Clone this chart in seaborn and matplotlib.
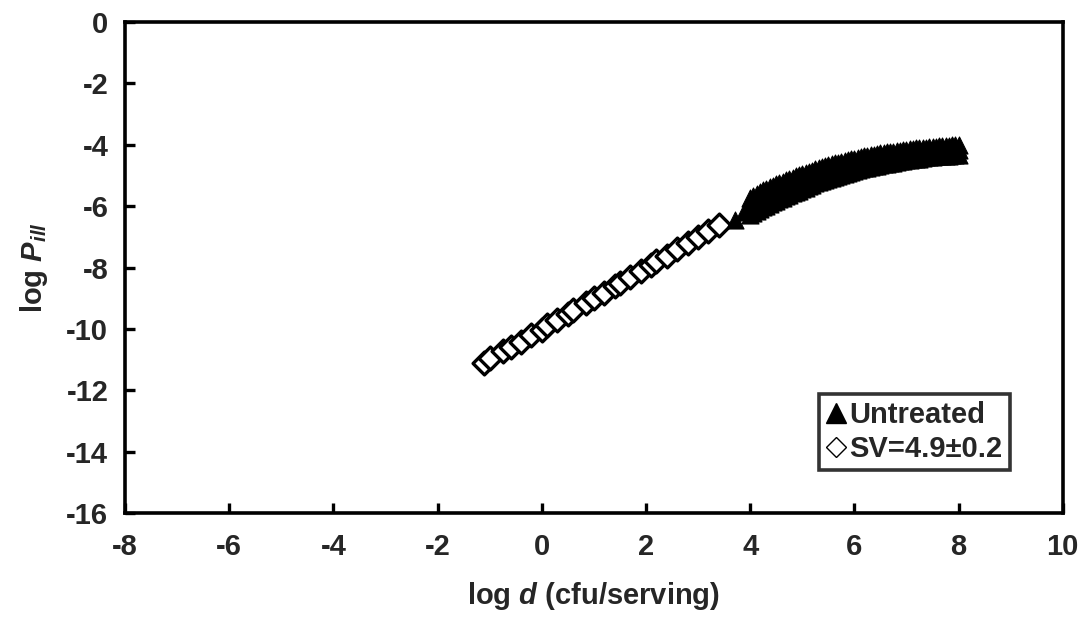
import matplotlib
matplotlib.use("Agg")
import matplotlib.pyplot as plt
import seaborn as sns
import pandas as pd
from matplotlib.lines import Line2D

# ---- data ----
sv_x = [-1.10, -1.00, -0.75, -0.60, -0.40, -0.20, 0.00, 0.10, 0.30, 0.50, 0.60,
        0.85, 1.00, 1.20, 1.40, 1.50, 1.70, 1.90, 2.10, 2.20, 2.40, 2.60, 2.80,
        3.00, 3.20, 3.40]
sv_y = [-11.10, -10.95, -10.72, -10.60, -10.42, -10.20, -10.02, -9.88, -9.70,
        -9.52, -9.38, -9.15, -8.98, -8.82, -8.60, -8.50, -8.30, -8.12, -7.90,
        -7.80, -7.62, -7.40, -7.20, -7.00, -6.82, -6.60]

ut_x = [4.0, 4.125, 4.25, 4.375, 4.5, 4.625, 4.75, 4.875, 5.0, 5.125, 5.25,
        5.375, 5.5, 5.625, 5.75, 5.875, 6.0, 6.125, 6.25, 6.375, 6.5, 6.625,
        6.75, 6.875, 7.0, 7.125, 7.25, 7.375, 7.5, 7.625, 7.75, 7.875, 8.0]
ut_mid = [-6.00, -5.88, -5.76, -5.65, -5.55, -5.46, -5.37, -5.28, -5.20, -5.11,
          -5.03, -4.95, -4.88, -4.82, -4.76, -4.70, -4.65, -4.60, -4.55, -4.51,
          -4.47, -4.43, -4.40, -4.36, -4.33, -4.30, -4.28, -4.25, -4.23, -4.21,
          -4.20, -4.18, -4.17]
ut_hi = [-5.72, -5.60, -5.48, -5.38, -5.28, -5.20, -5.11, -5.03, -4.95, -4.87,
         -4.80, -4.72, -4.66, -4.60, -4.55, -4.49, -4.45, -4.40, -4.36, -4.32,
         -4.28, -4.25, -4.22, -4.19, -4.16, -4.13, -4.11, -4.09, -4.07, -4.05,
         -4.04, -4.02, -4.01]
ut_lo = [-6.28, -6.16, -6.04, -5.92, -5.82, -5.72, -5.63, -5.53, -5.45, -5.35,
         -5.26, -5.18, -5.10, -5.04, -4.97, -4.91, -4.85, -4.80, -4.74, -4.70,
         -4.66, -4.61, -4.58, -4.53, -4.50, -4.47, -4.45, -4.41, -4.39, -4.37,
         -4.36, -4.34, -4.33]
ut_xh = [4.0625, 4.1875, 4.3125, 4.4375, 4.5625, 4.6875, 4.8125, 4.9375,
         5.0625, 5.1875, 5.3125, 5.4375, 5.5625, 5.6875, 5.8125, 5.9375,
         6.0625, 6.1875, 6.3125, 6.4375, 6.5625, 6.6875, 6.8125, 6.9375,
         7.0625, 7.1875, 7.3125, 7.4375, 7.5625, 7.6875, 7.8125, 7.9375]
ut_hi_h = [-5.66, -5.54, -5.43, -5.33, -5.24, -5.16, -5.07, -4.99, -4.91, -4.84,
           -4.76, -4.69, -4.63, -4.58, -4.52, -4.47, -4.43, -4.38, -4.34, -4.30,
           -4.27, -4.24, -4.21, -4.18, -4.15, -4.12, -4.10, -4.08, -4.06, -4.05,
           -4.03, -4.02]
ut_lo_h = [-6.22, -6.10, -5.98, -5.87, -5.77, -5.68, -5.58, -5.49, -5.40, -5.31,
           -5.22, -5.14, -5.07, -5.01, -4.94, -4.88, -4.83, -4.77, -4.72, -4.68,
           -4.64, -4.60, -4.56, -4.52, -4.49, -4.46, -4.43, -4.40, -4.38, -4.37,
           -4.35, -4.34]
ut_extra_x = [3.70, 3.88]
ut_extra_y = [-6.45, -6.20]

x_ticks = [-8, -6, -4, -2, 0, 2, 4, 6, 8, 10]
y_ticks = [0, -2, -4, -6, -8, -10, -12, -14, -16]
legend_labels = ["Untreated", "SV=4.9\u00b10.2"]

# ---- style ----
sns.set_theme(style="white")
plt.rcParams["font.family"] = ["Liberation Sans", "DejaVu Sans"]
plt.rcParams["font.weight"] = "bold"
plt.rcParams["mathtext.fontset"] = "custom"
plt.rcParams["mathtext.bfit"] = "Liberation Sans:italic:bold"
plt.rcParams["mathtext.it"] = "Liberation Sans:italic:bold"
plt.rcParams["mathtext.rm"] = "Liberation Sans:bold"

FS = 21

fig = plt.figure(figsize=(10.9, 6.22), dpi=100)
ax = fig.add_axes([0.1147, 0.175, 0.8603, 0.7896])

ut_df = pd.DataFrame({
    "x": ut_x + ut_x + ut_x + ut_xh + ut_xh + ut_extra_x,
    "y": ut_mid + ut_hi + ut_lo + ut_hi_h + ut_lo_h + ut_extra_y,
})
sv_df = pd.DataFrame({"x": sv_x, "y": sv_y})

sns.scatterplot(data=sv_df, x="x", y="y", ax=ax, marker="D", s=135,
                facecolor="white", edgecolor="black", linewidth=2.4, zorder=3)
sns.scatterplot(data=ut_df, x="x", y="y", ax=ax, marker="^", s=150,
                color="black", edgecolor="black", linewidth=0.8, zorder=4)

ax.set_xlim(-8, 10)
ax.set_ylim(-16, 0)
ax.set_xticks(x_ticks)
ax.set_yticks(y_ticks)
ax.set_xticklabels([str(t) for t in x_ticks], fontsize=FS, fontweight="bold")
ax.set_yticklabels([str(t) for t in y_ticks], fontsize=FS, fontweight="bold")
ax.tick_params(axis="both", direction="in", length=7, width=2.4, color="black",
               bottom=True, left=True, top=False, right=False)
ax.tick_params(axis="x", pad=14)
ax.tick_params(axis="y", pad=12)
for sp in ax.spines.values():
    sp.set_visible(True)
    sp.set_color("black")
    sp.set_linewidth(2.6)

ax.set_xlabel(r"log $\mathbfit{d}$ (cfu/serving)", fontsize=FS, fontweight="bold",
              labelpad=14)
ax.set_ylabel(r"log $\mathbfit{P}_{\mathbfit{ill}}$", fontsize=FS, fontweight="bold",
              labelpad=12)

handles = [
    Line2D([], [], marker="^", linestyle="none", markersize=14,
           markerfacecolor="black", markeredgecolor="black"),
    Line2D([], [], marker="D", linestyle="none", markersize=10,
           markerfacecolor="white", markeredgecolor="black", markeredgewidth=1.0),
]
leg = ax.legend(handles, legend_labels, loc="lower right",
                bbox_to_anchor=(0.9435, 0.087), frameon=True, fancybox=False,
                prop={"size": FS, "weight": "bold"}, handlelength=0.7,
                handletextpad=0.1, borderpad=0.25, labelspacing=0.2,
                borderaxespad=0)
leg.get_frame().set_edgecolor("black")
leg.get_frame().set_linewidth(2.6)

fig.savefig("out.png", dpi=100, facecolor="white")
